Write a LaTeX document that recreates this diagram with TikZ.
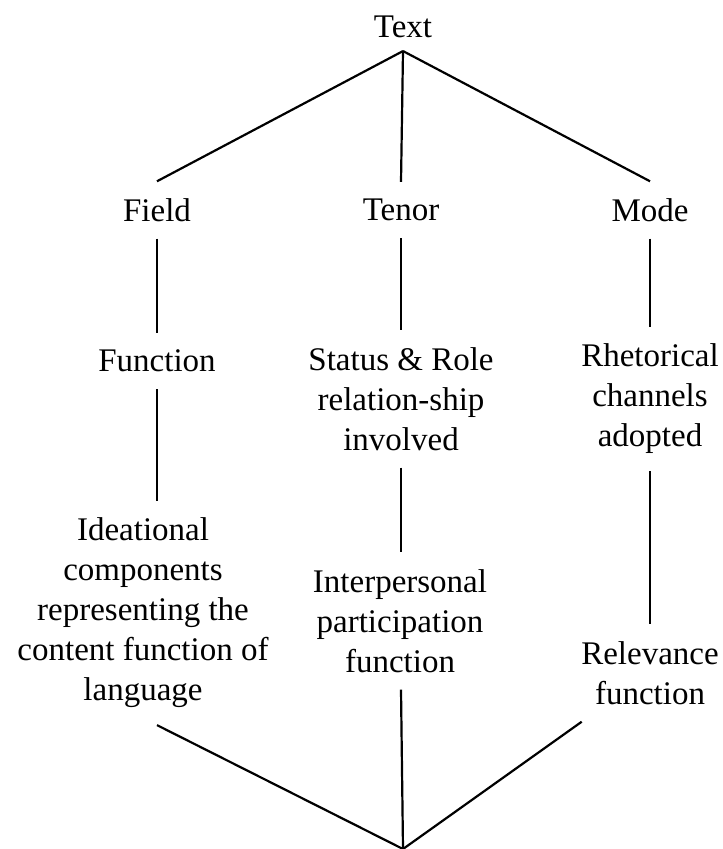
\documentclass[tikz,border=0pt]{standalone}
\usepackage{fontspec}
\setmainfont{Liberation Serif}
\usepackage{tikz}

\begin{document}
\begin{tikzpicture}[x=0.5pt,y=-0.5pt,
    lbl/.style={align=center,inner sep=8pt,font=\fontsize{16.5}{20}\selectfont},
    every path/.style={line width=1.1pt}]
  \useasboundingbox (0,0) rectangle (722,849);
  % Rubrik och tre grenar
  \node[lbl,inner sep=6pt] (text) at (403,27) {Text};
  \node[lbl] (field) at (157,210) {Field};
  \node[lbl] (tenor) at (401,210) {Tenor};
  \node[lbl] (mode)  at (650,210) {Mode};
  \foreach \n in {field,tenor,mode}
    \draw (text.south) -- (\n.north);
  % Andra nivån
  \node[lbl] (function) at (157,361) {Function};
  \node[lbl] (status) at (401,399) {Status \& Role\\relation-ship\\involved};
  \node[lbl] (rhetorical) at (650,399) {Rhetorical\\channels\\adopted};
  \draw (field) -- (function);
  \draw (tenor) -- (tenor |- status.north);
  \draw (mode) -- (mode |- rhetorical.north);
  % Tredje nivån
  \node[lbl] (ideational) at (143,613) {Ideational\\components\\representing the\\content function of\\language};
  \node[lbl] (interpersonal) at (400,621) {Interpersonal\\participation\\function};
  \node[lbl] (relevance) at (650,673) {Relevance\\function};
  \draw (function) -- (function |- ideational.north);
  \draw (status.south -| tenor) -- (tenor |- interpersonal.north);
  \draw (rhetorical) -- (relevance);
  % Ihop mot en punkt
  \coordinate (foot) at (403,849);
  \draw (ideational.south -| field) -- (foot);
  \draw (interpersonal.south -| tenor) -- (foot);
  \draw (relevance) -- (foot);
\end{tikzpicture}
\end{document}
